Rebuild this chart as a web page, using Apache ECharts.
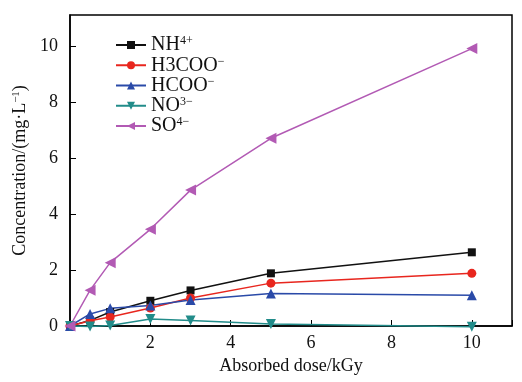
<!DOCTYPE html>
<html><head><meta charset="utf-8">
<script src="https://cdn.jsdelivr.net/npm/echarts@6/dist/echarts.min.js"></script>
<style>html,body{margin:0;padding:0;background:#fff}#c{width:522px;height:382px}</style>
</head><body><div id="c"></div>
<script>
const doses = [0, 0.5, 1, 2, 3, 5, 10];
const nh4 = [0, 0.2, 0.5, 0.9, 1.27, 1.88, 2.63];
const h3coo = [0, 0.19, 0.32, 0.64, 1.0, 1.53, 1.88];
const hcoo = [0, 0.43, 0.63, 0.73, 0.93, 1.16, 1.1];
const no3 = [0, -0.02, 0.02, 0.25, 0.2, 0.07, -0.03];
const so4 = [0, 1.28, 2.26, 3.45, 4.85, 6.7, 9.9];
const seriesNames = ['NH4+', 'H3COO-', 'HCOO-', 'NO3-', 'SO4-'];
const xTicks = [2, 4, 6, 8, 10];

const chart = echarts.init(document.getElementById('c'));
const serif = 'Liberation Serif';
function mk(name, vals, color, symbol, rot, size) {
  return {
    name: name, type: 'line', clip: false,
    data: doses.map((d, i) => [d, vals[i]]),
    symbol: symbol, symbolRotate: rot, symbolSize: size,
    lineStyle: {color: color, width: 1.5},
    itemStyle: {color: color},
    z: 3
  };
}
const legendFmt = {
  'NH4+': 'NH{s|4+}',
  'H3COO-': 'H3COO{s|−}',
  'HCOO-': 'HCOO{s|−}',
  'NO3-': 'NO{s|3−}',
  'SO4-': 'SO{s|4−}'
};
chart.setOption({
  animation: false,
  grid: {left: 70, right: 10, top: 15, bottom: 56, show: true, borderColor: '#000', borderWidth: 1.5},
  legend: {
    left: 110, top: 30, orient: 'vertical', itemGap: 0, itemWidth: 30, itemHeight: 10,
    data: seriesNames,
    formatter: n => legendFmt[n],
    textStyle: {fontFamily: serif, fontSize: 20, lineHeight: 19.5, color: '#111',
      rich: {s: {fontFamily: serif, fontSize: 12, lineHeight: 19.5, verticalAlign: 'top', color: '#111', padding: [0,0,8,0]}}}
  },
  xAxis: {
    type: 'value', min: 0, max: 11, interval: 2,
    name: 'Absorbed dose/kGy', nameLocation: 'middle', nameGap: 24,
    nameTextStyle: {fontFamily: serif, fontSize: 18, color: '#111'},
    axisLine: {lineStyle: {color: '#000', width: 1.5}},
    axisTick: {inside: true, length: 6, lineStyle: {color: '#000'}},
    axisLabel: {fontFamily: serif, fontSize: 18, color: '#111', margin: 8,
      formatter: v => xTicks.includes(v) ? String(v) : ''},
    splitLine: {show: false}
  },
  yAxis: {
    type: 'value', min: 0, max: 11.1, interval: 2,
    name: 'Concentration/(mg·L{s|−1})', nameLocation: 'middle', nameGap: 36,
    nameTextStyle: {fontFamily: serif, fontSize: 18, color: '#111',
      rich: {s: {fontFamily: serif, fontSize: 11, color: '#111', verticalAlign: 'top', padding: [0,0,8,0]}}},
    axisLine: {show: true, lineStyle: {color: '#000', width: 1.5}},
    axisTick: {show: true, inside: true, length: 6, lineStyle: {color: '#000'}},
    axisLabel: {fontFamily: serif, fontSize: 18, color: '#111', margin: 12, showMaxLabel: false,
      formatter: v => (v % 2 === 0 && v <= 10) ? String(v) : ''},
    splitLine: {show: false}
  },
  series: [
    mk('NH4+', nh4, '#111111', 'rect', 0, 8),
    mk('H3COO-', h3coo, '#e8261e', 'circle', 0, 9),
    mk('HCOO-', hcoo, '#2a4aa8', 'triangle', 0, 10),
    mk('NO3-', no3, '#228c8a', 'triangle', 180, 10),
    mk('SO4-', so4, '#b25ab4', 'triangle', 90, 11)
  ]
});
</script></body></html>
